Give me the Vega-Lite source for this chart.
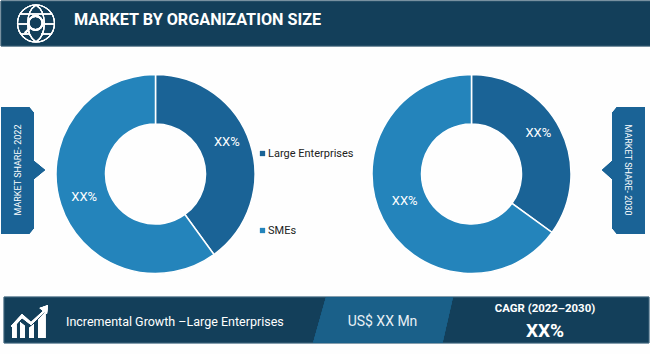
{
"$schema":"https://vega.github.io/schema/vega-lite/v6.json",
"width":650,"height":354,
"autosize":{"type":"fit","contains":"padding"},
"padding":0,
"background":"#fefefe",
"config":{"view":{"stroke":null}},
"data":{"values":[
{"year":"2022","segment":"Large Enterprises","share":40,"label":"XX%"},
{"year":"2022","segment":"SMEs","share":60,"label":"XX%"},
{"year":"2030","segment":"Large Enterprises","share":35,"label":"XX%"},
{"year":"2030","segment":"SMEs","share":65,"label":"XX%"}
]},
"layer":[
{"transform":[{"filter":"datum.year==='2022'"}],
 "mark":{"type":"arc","outerRadius":99.5,"innerRadius":50,"stroke":"#ffffff","strokeWidth":1.5},
 "encoding":{"x":{"value":154.5},"y":{"value":174},
  "theta":{"field":"share","type":"quantitative","stack":true,"scale":{"domain":[0,100]}},
  "order":{"field":"segment"},
  "color":{"field":"segment","type":"nominal","scale":{"domain":["Large Enterprises","SMEs"],"range":["#1a6396","#2484bb"]},
   "legend":{"title":null,"orient":"none","legendX":256,"legendY":148,"symbolType":"square","symbolSize":28,"symbolStrokeWidth":0,"labelFont":"Roboto","labelFontSize":11,"labelColor":"#222222","labelOffset":0,"rowPadding":65}}}},
{"transform":[{"filter":"datum.year==='2030'"}],
 "mark":{"type":"arc","outerRadius":99.5,"innerRadius":50,"stroke":"#ffffff","strokeWidth":1.5},
 "encoding":{"x":{"value":470.5},"y":{"value":174},
  "theta":{"field":"share","type":"quantitative","stack":true,"scale":{"domain":[0,100]}},
  "order":{"field":"segment"},
  "color":{"field":"segment","type":"nominal","legend":null}}},
{"layer":[
 {"transform":[{"filter":"datum.year==='2022'"}],
  "mark":{"type":"text","radius":75,"font":"Roboto","fontSize":13,"color":"#ffffff","align":"center","baseline":"middle"},
  "encoding":{"x":{"value":154.5},"y":{"value":174},
   "theta":{"field":"share","type":"quantitative","stack":true,"scale":{"domain":[0,100]}},
   "order":{"field":"segment"},
   "opacity":{"condition":{"test":"datum.segment==='SMEs'","value":1},"value":0},
   "text":{"field":"label"}}},
 {"transform":[{"filter":"datum.year==='2022'"}],
  "mark":{"type":"text","radius":75,"dy":-9,"font":"Roboto","fontSize":13,"color":"#ffffff","align":"center","baseline":"middle"},
  "encoding":{"x":{"value":154.5},"y":{"value":174},
   "theta":{"field":"share","type":"quantitative","stack":true,"scale":{"domain":[0,100]}},
   "order":{"field":"segment"},
   "opacity":{"condition":{"test":"datum.segment==='Large Enterprises'","value":1},"value":0},
   "text":{"field":"label"}}},
 {"transform":[{"filter":"datum.year==='2030'"}],
  "mark":{"type":"text","radius":75,"dy":-7,"font":"Roboto","fontSize":13,"color":"#ffffff","align":"center","baseline":"middle"},
  "encoding":{"x":{"value":470.5},"y":{"value":174},
   "theta":{"field":"share","type":"quantitative","stack":true,"scale":{"domain":[0,100]}},
   "order":{"field":"segment"},
   "text":{"field":"label"}}}
]},
{"mark":{"type":"rect","fill":"#133f5a","stroke":"#4d7085","strokeWidth":0.6},
 "encoding":{"x":{"value":0},"x2":{"value":650},"y":{"value":1},"y2":{"value":46}}},
{"mark":{"type":"rect","fill":"#133f5a","stroke":"#5f8296","strokeWidth":0.6},
 "encoding":{"x":{"value":3},"x2":{"value":648},"y":{"value":297},"y2":{"value":343}}},
{"mark":{"type":"point","shape":"M312,343 L325,297 L452,297 L441.500,343 Z","size":4,"filled":true,"fill":"#1a6089","opacity":1,"strokeWidth":0},
 "encoding":{"x":{"value":0},"y":{"value":0}}},
{"mark":{"type":"point","shape":"M0,107 L28,107 L33,113 L33,161 L44,170 L33,179 L33,228 L28,234 L0,234 Z","size":4,"filled":true,"fill":"#1a6396","opacity":1,"strokeWidth":0},
 "encoding":{"x":{"value":0},"y":{"value":0}}},
{"mark":{"type":"point","shape":"M644,107 L616,107 L611,113 L611,161 L601,170 L611,179 L611,228 L616,234 L644,234 Z","size":4,"filled":true,"fill":"#1a6396","opacity":1,"strokeWidth":0},
 "encoding":{"x":{"value":0},"y":{"value":0}}},
{"mark":{"type":"point","shape":"M16.500,23.500 A18.500,18.500 0 1 1 53.500,23.500 A18.500,18.500 0 1 1 16.500,23.500 Z M35,5 C24,12 24,35 35,42 M35,5 C46,12 46,35 35,42 M19,14 L51,14 M17,24 L27,24 M42,24 L53,24 M20,34 L29,34 M40,34 L51,34","size":4,"filled":false,"stroke":"#ffffff","strokeWidth":1.1,"opacity":1,"fill":null},
 "encoding":{"x":{"value":0},"y":{"value":0}}},
{"mark":{"type":"point","shape":"M27.500,23 A7,7 0 1 1 41.500,23 A7,7 0 1 1 27.500,23 Z M29,28 L24,33","size":4,"filled":false,"stroke":"#ffffff","strokeWidth":1.8,"opacity":1,"fill":null},
 "encoding":{"x":{"value":0},"y":{"value":0}}},
{"mark":{"type":"point","shape":"M11,338 L11,328 L15.500,324 L15.500,338 Z M19,338 L19,322 L24,326 L24,338 Z M28,338 L28,328 L33,324 L33,338 Z M37,338 L37,320 L44.500,312 L44.500,338 Z M10,326 L21,314 L30,322 L42,311 L38.500,308 L47,305 L46,314 L43.500,312 L30,325 L21,318 L12,328 Z","size":4,"filled":true,"fill":"#ffffff","opacity":1,"strokeWidth":0},
 "encoding":{"x":{"value":0},"y":{"value":0}}},
{"data":{"values":[{"t":"MARKET BY ORGANIZATION SIZE"}]},
 "mark":{"type":"text","font":"Roboto","fontWeight":"bold","fontSize":16.2,"color":"#ffffff","align":"left","baseline":"middle"},
 "encoding":{"x":{"value":73},"y":{"value":20},"text":{"field":"t"}}},
{"data":{"values":[{"t":"Incremental Growth –Large Enterprises"}]},
 "mark":{"type":"text","font":"Roboto","fontSize":12.5,"color":"#ffffff","align":"left","baseline":"middle"},
 "encoding":{"x":{"value":65},"y":{"value":322},"text":{"field":"t"}}},
{"data":{"values":[{"t":"US$ XX Mn"}]},
 "mark":{"type":"text","font":"Roboto","fontSize":14,"color":"#e8f0f5","align":"center","baseline":"middle"},
 "encoding":{"x":{"value":381.5},"y":{"value":322},"text":{"field":"t"}}},
{"data":{"values":[{"t":"CAGR (2022–2030)"}]},
 "mark":{"type":"text","font":"Roboto","fontWeight":"bold","fontSize":11.4,"color":"#ffffff","align":"center","baseline":"middle"},
 "encoding":{"x":{"value":544},"y":{"value":309},"text":{"field":"t"}}},
{"data":{"values":[{"t":"XX%"}]},
 "mark":{"type":"text","font":"Roboto","fontWeight":"bold","fontSize":19,"color":"#ffffff","align":"center","baseline":"middle"},
 "encoding":{"x":{"value":544},"y":{"value":331},"text":{"field":"t"}}},
{"data":{"values":[{"t":"MARKET SHARE- 2022"}]},
 "mark":{"type":"text","font":"Roboto","fontSize":9,"angle":270,"color":"#ffffff","align":"center","baseline":"middle"},
 "encoding":{"x":{"value":17},"y":{"value":170},"text":{"field":"t"}}},
{"data":{"values":[{"t":"MARKET SHARE- 2030"}]},
 "mark":{"type":"text","font":"Roboto","fontSize":9,"angle":90,"color":"#ffffff","align":"center","baseline":"middle"},
 "encoding":{"x":{"value":627},"y":{"value":170},"text":{"field":"t"}}}
]
}
